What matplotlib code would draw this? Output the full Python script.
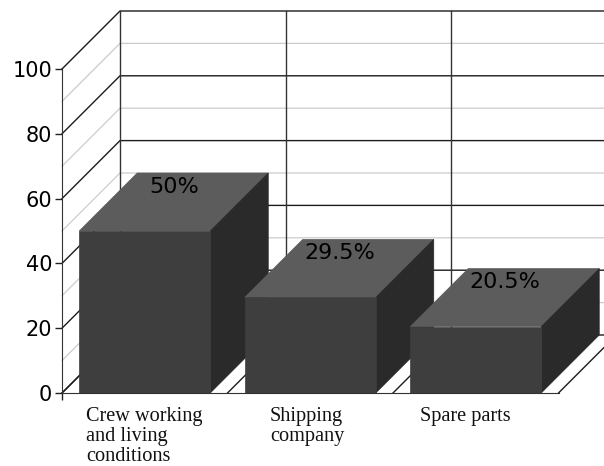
import matplotlib
matplotlib.use("Agg")
import matplotlib.pyplot as plt

categories = ["Crew working\nand living\nconditions", "Shipping\ncompany", "Spare parts"]
values = [50, 29.5, 20.5]
value_labels = ["50%", "29.5%", "20.5%"]
y_major = [0, 20, 40, 60, 80, 100]
y_minor = [10, 30, 50, 70, 90]
label_x = [0.145, 1.257, 2.163]

# depth of the fake 3d box, in data units
DX = 58 / 165.5
DY = 58 / 3.24
BAR_W = 131 / 165.5

FRONT = "#3e3e3e"
TOP = "#5c5c5c"
SIDE = "#2a2a2a"


def main():
    fig = plt.figure(figsize=(6.04, 4.66), dpi=100)
    ax = fig.add_axes([62 / 604, (466 - 393) / 466, 496.5 / 604, 324 / 466])
    ax.set_xlim(0, 3)
    ax.set_ylim(0, 100)

    n = len(categories)

    # walls and floor
    for y in y_minor:
        ax.plot([0, DX, n + DX], [y, y + DY, y + DY], color="#cccccc", lw=0.9, clip_on=False, zorder=1)
    for y in y_major:
        ax.plot([0, DX, n + DX], [y, y + DY, y + DY], color="#1c1c1c", lw=1, clip_on=False, zorder=2)
    for i in range(n + 1):
        ax.plot([i + DX, i + DX], [DY, 100 + DY], color="#333333", lw=1, clip_on=False, zorder=2)
        ax.plot([i, i + DX], [0, DY], color="#1c1c1c", lw=1, clip_on=False, zorder=2)

    # boxes
    for i, v in enumerate(values):
        left = i + (1 - BAR_W) / 2
        right = left + BAR_W
        ax.fill([left, right, right + DX, left + DX], [v, v, v + DY, v + DY],
                facecolor=TOP, edgecolor=TOP, lw=0.5, clip_on=False, zorder=3)
        ax.fill([right, right + DX, right + DX, right], [0, DY, v + DY, v],
                facecolor=SIDE, edgecolor=SIDE, lw=0.5, clip_on=False, zorder=3)
        ax.bar(left, v, width=BAR_W, align="edge", color=FRONT, edgecolor=FRONT, lw=0.5, zorder=4)
        ax.text(left + BAR_W / 2 + DX / 2, v + DY / 2 + 4.7, value_labels[i], ha="center", va="center",
                fontsize=16, color="#000000", family="DejaVu Sans", zorder=5)

    for i, name in enumerate(categories):
        ax.text(label_x[i], -4.2, name, ha="left", va="top", family="Liberation Serif",
                fontsize=14.6, linespacing=1.07, color="#111111")

    ax.set_xticks([0])
    ax.set_xticklabels([""])
    ax.set_yticks(y_major)
    ax.tick_params(axis="y", labelsize=15, length=5, width=1, color="#222222", labelcolor="#000000", pad=2)
    ax.tick_params(axis="x", length=5, width=1, color="#222222")
    for side in ["top", "right"]:
        ax.spines[side].set_visible(False)
    for side in ["left", "bottom"]:
        ax.spines[side].set_color("#333333")
        ax.spines[side].set_zorder(6)
    ax.patch.set_alpha(0)

    fig.savefig("out.png", dpi=100)


if __name__ == "__main__":
    main()
